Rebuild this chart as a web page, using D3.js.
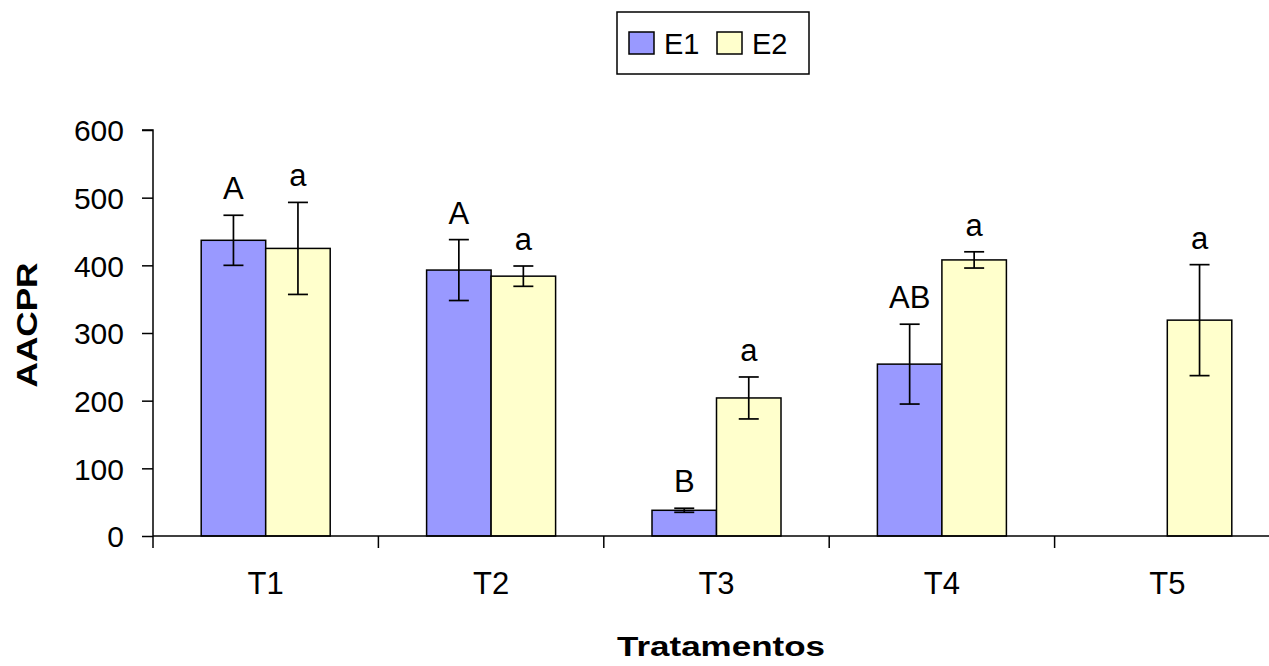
<!DOCTYPE html>
<html>
<head>
<meta charset="utf-8">
<script src="https://cdn.jsdelivr.net/npm/d3@7"></script>
<style>
html,body{margin:0;padding:0;background:#fff;}
svg{display:block;}
text{font-family:"Liberation Sans",Arial,sans-serif;fill:#000;}
</style>
</head>
<body>
<svg id="chart" width="1269" height="666"></svg>
<script>
const categories = ["T1","T2","T3","T4","T5"];
const seriesNames = ["E1","E2"];
const e1Values = [437, 393, 38, 254, null];
const e1Errors = [37, 45, 3, 59, null];
const e1Letters = ["A","A","B","AB",""];
const e2Values = [425, 384, 204, 408, 319];
const e2Errors = [68, 15, 31, 12, 82];
const e2Letters = ["a","a","a","a","a"];
const yTicks = [0,100,200,300,400,500,600];
const colors = ["#9999FF","#FFFFCC"];

const svg = d3.select("#chart");
const x0 = 153, x1 = 1280, yTop = 130, yBot = 536;

const x = d3.scaleBand().domain(categories).range([x0, x1]).padding(0);
const barW = 64.5;
const xs = d3.scaleBand().domain(seriesNames).range([-barW, barW]).padding(0);
const y = d3.scaleLinear().domain([0, 600]).range([yBot, yTop]);

const data = [];
categories.forEach((c, i) => {
  data.push({cat: c, s: "E1", v: e1Values[i], e: e1Errors[i], l: e1Letters[i], ci: 0});
  data.push({cat: c, s: "E2", v: e2Values[i], e: e2Errors[i], l: e2Letters[i], ci: 1});
});
const valid = data.filter(d => d.v != null);
const cx = d => x(d.cat) + x.bandwidth()/2 + xs(d.s);

// bars
svg.append("g").selectAll("rect").data(valid).join("rect")
  .attr("x", d => cx(d))
  .attr("y", d => y(d.v))
  .attr("width", xs.bandwidth())
  .attr("height", d => y(0) - y(d.v))
  .attr("fill", d => colors[d.ci])
  .attr("stroke", "#000").attr("stroke-width", 1.5);

// error bars
const eg = svg.append("g").attr("stroke", "#000").attr("stroke-width", 1.7);
valid.forEach(d => {
  const mx = cx(d) + xs.bandwidth()/2;
  eg.append("line").attr("x1", mx).attr("x2", mx).attr("y1", y(d.v + d.e)).attr("y2", y(d.v - d.e));
  eg.append("line").attr("x1", mx-10).attr("x2", mx+10).attr("y1", y(d.v + d.e)).attr("y2", y(d.v + d.e));
  eg.append("line").attr("x1", mx-10).attr("x2", mx+10).attr("y1", y(d.v - d.e)).attr("y2", y(d.v - d.e));
});

// letters
svg.append("g").selectAll("text").data(valid.filter(d => d.l)).join("text")
  .attr("x", d => cx(d) + xs.bandwidth()/2)
  .attr("y", d => y(d.v + d.e) - 16)
  .attr("text-anchor", "middle")
  .attr("font-size", 31)
  .text(d => d.l);

// y axis
const yAxis = d3.axisLeft(y).tickValues(yTicks).tickSize(11).tickPadding(18);
const yg = svg.append("g").attr("transform", `translate(${x0},0)`).call(yAxis);
yg.select(".domain").attr("stroke", "#000").attr("stroke-width", 1.5).attr("d", `M-11,${yTop}H0V${yBot}`);
yg.selectAll(".tick line").attr("stroke", "#000").attr("stroke-width", 1.5);
yg.selectAll(".tick text").attr("font-size", 30).attr("font-family", "Liberation Sans, Arial, sans-serif").attr("fill", "#000").attr("dy", "0.36em");

// x axis
const xAxis = d3.axisBottom(x).tickSize(0).tickPadding(36);
const xg = svg.append("g").attr("transform", `translate(0,${yBot})`).call(xAxis);
xg.select(".domain").attr("stroke", "#000").attr("stroke-width", 1.5).attr("d", `M${x0},0H${x1}`);
xg.selectAll(".tick text").attr("font-size", 31).attr("font-family", "Liberation Sans, Arial, sans-serif").attr("fill", "#000");
// boundary ticks
const bounds = categories.map(c => x(c));
xg.append("g").selectAll("line").data(bounds).join("line")
  .attr("x1", d => d).attr("x2", d => d).attr("y1", 0).attr("y2", 12)
  .attr("stroke", "#000").attr("stroke-width", 1.5);

// axis titles
svg.append("text")
  .attr("transform", `translate(37,${325}) rotate(-90)`)
  .attr("text-anchor", "middle")
  .attr("font-size", 29).attr("font-weight", "bold")
  .attr("textLength", 125).attr("lengthAdjust", "spacingAndGlyphs")
  .text("AACPR");
svg.append("text")
  .attr("x", 721).attr("y", 656)
  .attr("text-anchor", "middle")
  .attr("font-size", 27).attr("font-weight", "bold")
  .attr("textLength", 208).attr("lengthAdjust", "spacingAndGlyphs")
  .text("Tratamentos");

// legend
const lg = svg.append("g");
lg.append("rect").attr("x", 617).attr("y", 12).attr("width", 192).attr("height", 62)
  .attr("fill", "#fff").attr("stroke", "#000").attr("stroke-width", 1.5);
const legX = [629, 717];
seriesNames.forEach((s, i) => {
  lg.append("rect").attr("x", legX[i]).attr("y", 32).attr("width", 25).attr("height", 22)
    .attr("fill", colors[i]).attr("stroke", "#000").attr("stroke-width", 1.5);
  lg.append("text").attr("x", legX[i] + 35).attr("y", 54).attr("font-size", 29).text(s);
});
</script>
</body>
</html>
